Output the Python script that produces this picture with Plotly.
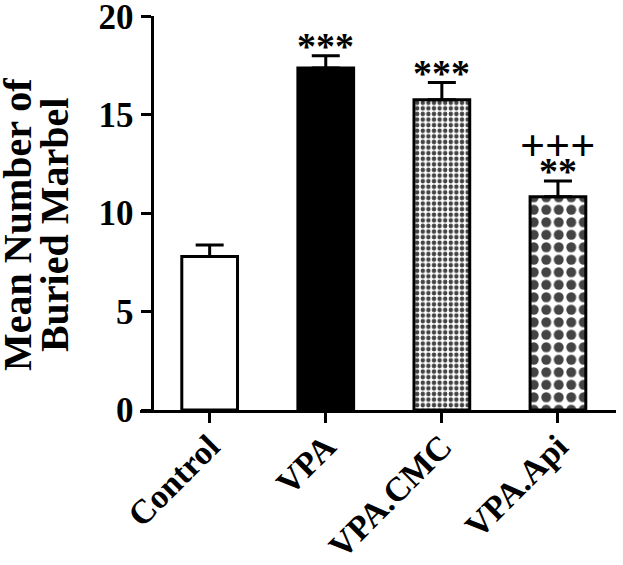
import plotly.graph_objects as go

categories = ["Control", "VPA", "VPA.CMC", "VPA.Api"]
means = [7.8, 17.38, 15.76, 10.83]
sem = [0.58, 0.62, 0.88, 0.81]
stars = ["", "***", "***", "**"]
plus = ["", "", "", "+++"]
y_ticks = [0, 5, 10, 15, 20]
y_title = ["Mean Number of", "Buried Marbel"]

FONT = "Liberation Serif"

fills = ["white", "black", "white", "white"]
shapes = ["", "", ".", "."]
psizes = [8, 8, 5.6, 12.5]

fig = go.Figure()
fig.add_trace(go.Bar(
    x=list(range(len(categories))),
    y=means,
    width=0.48,
    marker=dict(
        color=fills,
        line=dict(color="black", width=3),
        pattern=dict(shape=shapes, fgcolor="black", bgcolor="white", fgopacity=1,
                     size=psizes, solidity=0.5, fillmode="overlay"),
    ),
    error_y=dict(type="data", array=sem, arrayminus=[0] * 4, symmetric=False,
                 color="black", thickness=3, width=14),
))

for i, (m, s, st, p) in enumerate(zip(means, sem, stars, plus)):
    if st:
        fig.add_annotation(x=i, y=m + s, text=st, showarrow=False,
                           yanchor="bottom", yshift=-13,
                           font=dict(family=FONT, size=38, color="black", weight="bold"))
    if p:
        fig.add_annotation(x=i, y=m + s, text=p, showarrow=False,
                           yanchor="bottom", yshift=9,
                           font=dict(family=FONT, size=44, color="black", weight="bold"))

for k, (line, xp) in enumerate(zip(y_title, [-0.256, -0.178])):
    fig.add_annotation(xref="paper", yref="paper", x=xp, y=0.47, text=line,
                       textangle=-90, showarrow=False, xanchor="center", yanchor="middle",
                       font=dict(family=FONT, size=40, color="black", weight="bold"))

fig.update_layout(
    width=623, height=565,
    margin=dict(l=140, r=7, t=16, b=155),
    paper_bgcolor="white", plot_bgcolor="white",
    showlegend=False,
    font=dict(family=FONT, color="black", weight="bold"),
    xaxis=dict(
        range=[-0.6, 3.5], tickmode="array", automargin=False,
        tickvals=list(range(len(categories))), ticktext=categories,
        tickangle=-45, ticks="outside", ticklen=10, tickwidth=3, tickcolor="black",
        showline=True, linecolor="black", linewidth=3, showgrid=False, zeroline=False,
        ticklabeloverflow="allow", ticklabelstandoff=-10,
        tickfont=dict(family=FONT, size=34, color="black", weight="bold"),
    ),
    yaxis=dict(
        range=[0, 20.02], tickvals=y_ticks, anchor="free", position=0.0244,
        automargin=False, ticklabeloverflow="allow",
        ticks="outside", ticklen=10, tickwidth=3, tickcolor="black",
        showline=True, linecolor="black", linewidth=3, showgrid=False, zeroline=False,
        tickfont=dict(family=FONT, size=35, color="black", weight="bold"),
    ),
)

fig.write_html("out.html", config={"displayModeBar": False},
               post_script="document.body.style.margin='0';document.body.style.padding='0';")
